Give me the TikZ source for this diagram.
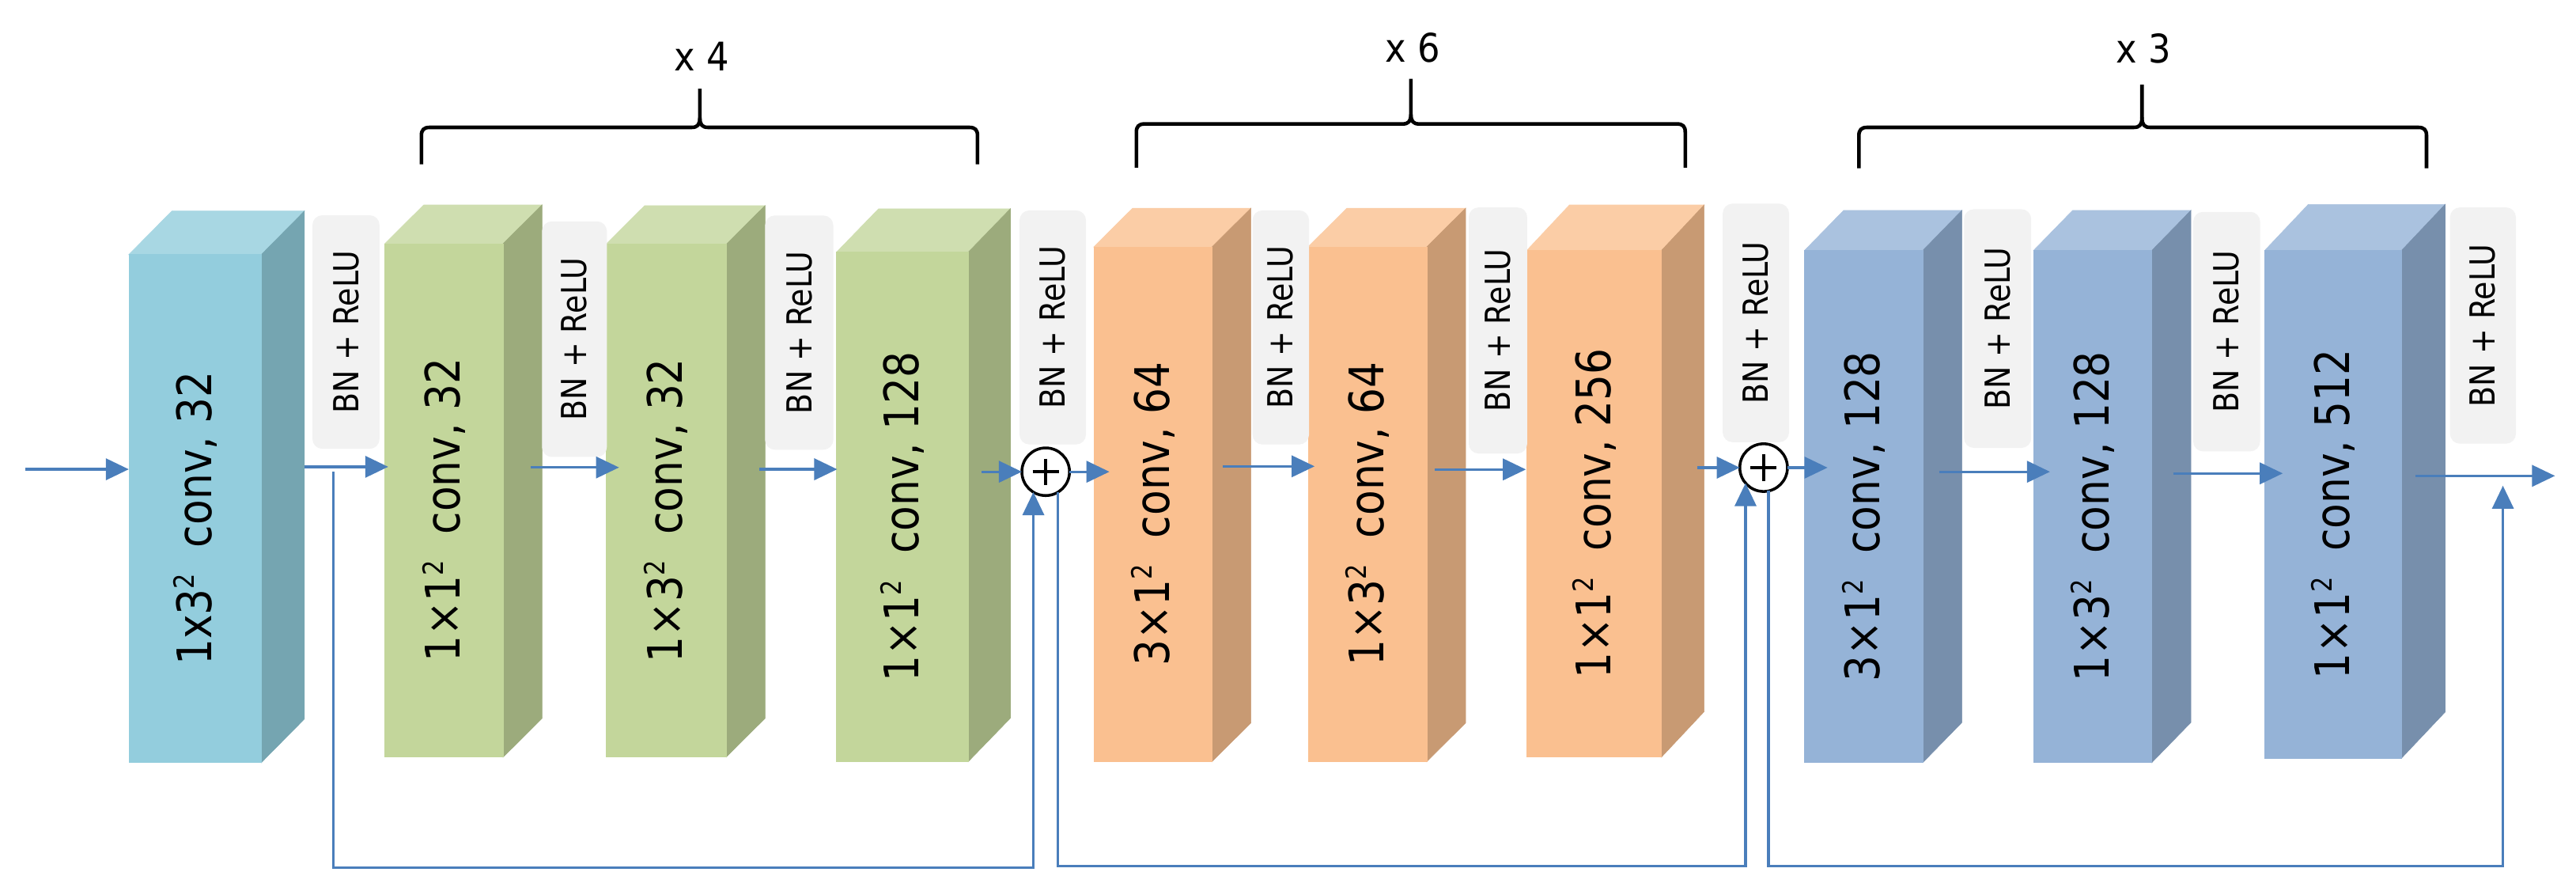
\documentclass[tikz,border=0pt]{standalone}
\usepackage{fontspec}
\setmainfont{DejaVu Sans}[FakeStretch=0.9]
\newfontfamily\blkfam{DejaVu Sans}[FakeStretch=0.86]
\newfontfamily\bnfam{DejaVu Sans}[FakeStretch=0.87]
\usetikzlibrary{arrows.meta,calc}
\definecolor{arrowc}{HTML}{4A7EBB}
\definecolor{blueaF}{HTML}{93CDDD}
\definecolor{blueaT}{HTML}{A8D7E3}
\definecolor{blueaS}{HTML}{75A5B1}
\definecolor{grnF}{HTML}{C3D69B}
\definecolor{grnT}{HTML}{CFDEB0}
\definecolor{grnS}{HTML}{9CAB7C}
\definecolor{orgF}{HTML}{FAC090}
\definecolor{orgT}{HTML}{FBCDA6}
\definecolor{orgS}{HTML}{C89A73}
\definecolor{blbF}{HTML}{95B3D7}
\definecolor{blbT}{HTML}{AAC2DF}
\definecolor{blbS}{HTML}{778FAC}
\definecolor{bnF}{HTML}{F2F2F2}
\newcommand\blkfont{\blkfam\fontsize{29}{33}\selectfont}
\newcommand\bnfont{\bnfam\fontsize{21}{24}\selectfont}
\newcommand\brfont{\fontsize{24}{28}\selectfont}
\newcommand\sqr{\raisebox{10.5pt}{\fontsize{17}{17}\selectfont 2}}
% name, x1, x2, ytop, ybot, dx, dy, colour prefix, label
\newcommand\drawcube[9]{%
  \fill[#8T, draw=#8T, line width=0.3pt] (#2,#4) -- ({#2+#6},{#4-#7}) -- ({#3+#6},{#4-#7}) -- (#3,#4) -- cycle;
  \fill[#8S, draw=#8S, line width=0.3pt] (#3,#4) -- ({#3+#6},{#4-#7}) -- ({#3+#6},{#5-#7}) -- (#3,#5) -- cycle;
  \node[inner sep=0pt, outer sep=0pt, fill=#8F, draw=#8F, line width=0.3pt,
        minimum width={(#3-#2)*1pt}, minimum height={(#5-#4)*1pt}, anchor=north west] (#1) at (#2,#4) {};
  \node[rotate=90, font=\blkfont, inner sep=0pt] (#1t) at ($(#1.center)+(0,6)$) {#9};
}
% name, cx, cy, w, h
\newcommand\bnbox[5]{%
  \node[bn, rotate=90, minimum width=#5pt, minimum height=#4pt] (#1) at (#2,#3) {BN + ReLU};
}
% name, x1, xm, x2, yh, ytip, ybot, text baseline, text
\newcommand\topbrace[9]{%
  \draw[brc] (#2,#7) -- (#2,{#5+5}) .. controls (#2,{#5+1.5}) and ({#2+1.5},#5) .. ({#2+5},#5)
     -- ({#3-5},#5) .. controls ({#3-1.5},#5) and (#3,{#5-1.5}) .. (#3,{#5-6}) -- (#3,#6);
  \draw[brc] (#4,#7) -- (#4,{#5+5}) .. controls (#4,{#5+1.5}) and ({#4-1.5},#5) .. ({#4-5},#5)
     -- ({#3+5},#5) .. controls ({#3+1.5},#5) and (#3,{#5-1.5}) .. (#3,{#5-6});
  \node[anchor=base, font=\brfont, inner sep=0pt] (#1) at ({#3+1},#8) {#9};
}
\begin{document}
\begin{tikzpicture}[x=1pt, y=-1pt,
  bn/.style={fill=bnF, rounded corners=6pt, inner sep=0pt, font=\bnfont},
  arr/.style={draw=arrowc, line width=1.6pt, -{Triangle[length=14pt,width=13pt]}},
  brc/.style={draw=black, line width=2.2pt, line join=round},
  plus/.style={circle, draw=black, fill=white, line width=1.7pt, minimum size=29pt, inner sep=0pt, outer sep=0pt}]
\fill[white] (0,0) rectangle (1568,542);
\useasboundingbox (0,0) rectangle (1568,542);

% braces
\topbrace{r4}{256.5}{426}{595}{77.5}{54}{100}{43.3}{x 4}
\topbrace{r6}{691.7}{858.8}{1025.8}{75.4}{48}{102}{37.7}{x 6}
\topbrace{r3}{1131.5}{1303.8}{1477}{77.5}{51.4}{102.4}{38.5}{x 3}

% blocks
\drawcube{b1}{78.4}{159.1}{154.9}{463.9}{26.2}{26.5}{bluea}{1x3\sqr~ conv, 32}
\drawcube{g1}{234.3}{306.3}{148.2}{460.6}{23.6}{23.5}{grn}{1×1\sqr~ conv, 32}
\drawcube{g2}{368.8}{442.1}{148.6}{460.5}{23.6}{23.5}{grn}{1×3\sqr~ conv, 32}
\drawcube{g3}{509.2}{589.4}{153.4}{463.3}{25.6}{26.4}{grn}{1×1\sqr~ conv, 128}
\drawcube{o1}{665.8}{737.8}{150.2}{463.3}{23.6}{23.5}{org}{3×1\sqr~ conv, 64}
\drawcube{o2}{796.2}{868.5}{150.2}{463.3}{23.6}{23.5}{org}{1×3\sqr~ conv, 64}
\drawcube{o3}{929.3}{1011.3}{152.4}{460.6}{26}{27.7}{org}{1×1\sqr~ conv, 256}
\drawcube{c1}{1098.4}{1170.4}{152.4}{463.9}{23.8}{24.4}{blb}{3×1\sqr~ conv, 128}
\drawcube{c2}{1237.8}{1309.8}{152.4}{463.9}{23.8}{24.4}{blb}{1×3\sqr~ conv, 128}
\drawcube{c3}{1378.5}{1461.8}{152.4}{461.2}{26.5}{28}{blb}{1×1\sqr~ conv, 512}

% BN + ReLU boxes
\bnbox{n1}{210.6}{202}{40.8}{142.1}
\bnbox{n2}{349.65}{206.35}{39.5}{143.3}
\bnbox{n3}{486.45}{202.35}{41.5}{142.5}
\bnbox{n4}{640.8}{199.2}{40.4}{142.4}
\bnbox{n5}{779.6}{199.2}{34.4}{142.4}
\bnbox{n6}{911.8}{201.05}{35.6}{149.7}
\bnbox{n7}{1068.8}{196.45}{40.4}{145.1}
\bnbox{n8}{1215.95}{199.9}{40.9}{145.2}
\bnbox{n9}{1355.35}{201.75}{40.7}{145.7}
\bnbox{n10}{1511.35}{198.05}{40.1}{143.7}

% adders
\node[plus] (p1) at (636.5,287) {};
\node[plus] (p2) at (1073.5,284.5) {};
\draw[line width=2.2pt] (p1.center) +(-8,0) -- +(8,0) (p1.center) +(0,-8) -- +(0,8);
\draw[line width=2.2pt] (p2.center) +(-8,0) -- +(8,0) (p2.center) +(0,-8) -- +(0,8);

% free ends
\coordinate (in) at (15.5,285.5);
\coordinate (out) at (1555.2,289.5);
\coordinate (s1) at (203,287);
\coordinate (sk3) at (1523.5,295.5);
\coordinate (p1in) at ($(p1.center)+(-7.5,12.4)$);
\coordinate (p1out) at ($(p1.center)+(7.5,12.4)$);
\coordinate (p2in) at ($(p2.center)+(-11,9.4)$);
\coordinate (p2out) at ($(p2.center)+(3,14.2)$);

% main path
\draw[arr] (in) -- (in -| b1.west);
\draw[arr] ($(b1.east |- 0,284)+(26.2,0)$) -- ($(g1.west |- 0,284)+(2,0)$);
\draw[arr] ($(g1.east |- 0,284.4)+(16.7,0)$) -- ($(g2.west |- 0,284.4)+(8,0)$);
\draw[arr] ($(g2.east |- 0,285.5)+(20.2,0)$) -- ($(g3.west |- 0,285.5)+(0.4,0)$);
\draw[arr] ($(g3.east |- p1)+(8,0)$) -- (p1.west);
\draw[arr] (p1.east) -- ($(o1.west |- p1)+(9.5,0)$);
\draw[arr] ($(o1.east |- 0,283.7)+(6.7,0)$) -- ($(o2.west |- 0,283.7)+(4,0)$);
\draw[arr] ($(o2.east |- 0,285.6)+(5,0)$) -- ($(o3.west |- 0,285.6)+(-0.5,0)$);
\draw[arr] ($(o3.east |- p2)+(22,0)$) -- (p2.west);
\draw[arr] (p2.east) -- ($(c1.west |- p2)+(14,0)$);
\draw[arr] ($(c1.east |- 0,287)+(10,0)$) -- ($(c2.west |- 0,287)+(10,0)$);
\draw[arr] ($(c2.east |- 0,288)+(13,0)$) -- ($(c3.west |- 0,288)+(11,0)$);
\draw[arr] ($(c3.east |- out)+(8.4,0)$) -- (out);

% skip connections
\draw[arr] (s1) -- (s1 |- 0,528) -| (p1in);
\draw[arr] (p1out) -- (p1out |- 0,527) -| (p2in);
\draw[arr] (p2out) -- (p2out |- 0,527) -| (sk3);
\end{tikzpicture}
\end{document}
